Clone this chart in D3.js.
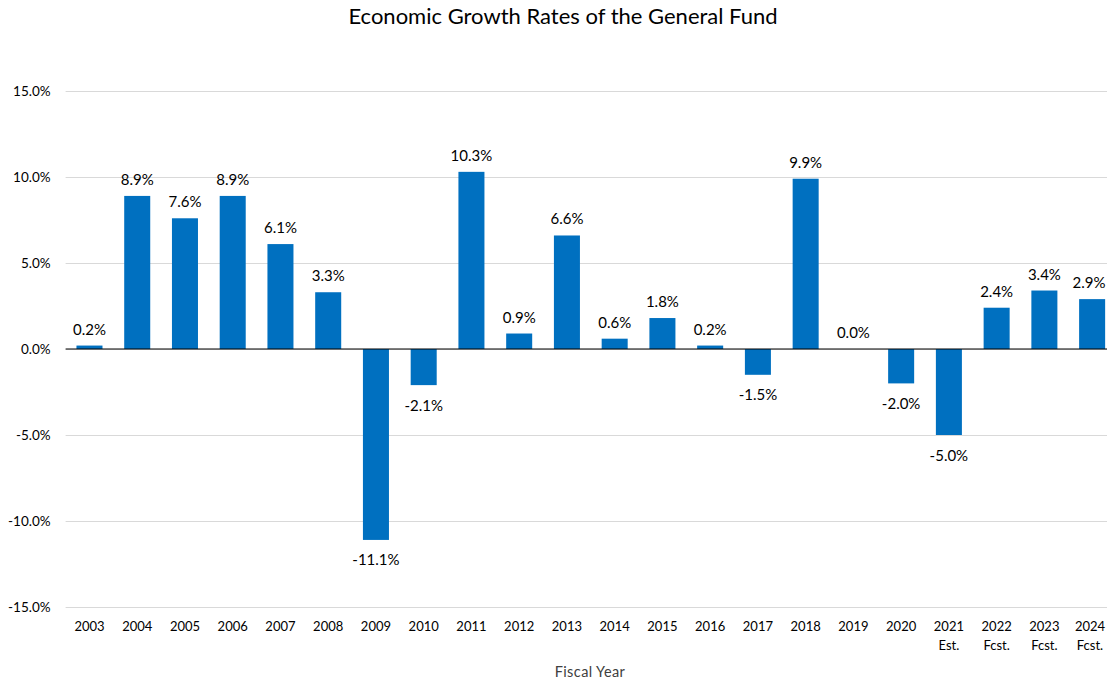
<!DOCTYPE html>
<html>
<head>
<meta charset="utf-8">
<script src="https://cdn.jsdelivr.net/npm/d3@7/dist/d3.min.js"></script>
<style>
  html, body { margin: 0; padding: 0; background: #fff; }
  svg { display: block; font-family: Lato, "Open Sans", sans-serif; }
</style>
</head>
<body>
<svg id="chart" width="1107" height="680"></svg>
<script>
// Fiscal years (second line of the label marks estimates / forecasts)
const years = ["2003","2004","2005","2006","2007","2008","2009","2010","2011","2012","2013",
               "2014","2015","2016","2017","2018","2019","2020","2021","2022","2023","2024"];
const yearNotes = ["","","","","","","","","","","","","","","","","","","Est.","Fcst.","Fcst.","Fcst."];
// Annual growth rate, percent
const growth = [0.2, 8.9, 7.6, 8.9, 6.1, 3.3, -11.1, -2.1, 10.3, 0.9, 6.6,
                0.6, 1.8, 0.2, -1.5, 9.9, 0.0, -2.0, -5.0, 2.4, 3.4, 2.9];
const yTicks = [-15, -10, -5, 0, 5, 10, 15];

const W = 1107;
const svg = d3.select("#chart");
const plot = { left: 65.6, right: 1116, top: 91, bottom: 607 };

const x = d3.scaleBand().domain(years).range([plot.left, plot.right])
  .paddingInner(0.455).paddingOuter(0.2275);
const y = d3.scaleLinear().domain([-15, 15]).range([plot.bottom, plot.top]);
// Percent with one decimal and a plain hyphen for negatives
const pct = d => (d < 0 ? "-" : "") + Math.abs(d).toFixed(1) + "%";

// Title
svg.append("text")
  .attr("x", 563).attr("y", 24)
  .attr("text-anchor", "middle")
  .attr("font-size", 22)
  .attr("fill", "#000")
  .text("Economic Growth Rates of the General Fund");

// Horizontal gridlines and y tick labels
const yAxis = d3.axisLeft(y).tickValues(yTicks)
  .tickSize(-(plot.right - plot.left)).tickPadding(15)
  .tickFormat(pct);
const gy = svg.append("g").attr("transform", `translate(${plot.left},0)`).call(yAxis);
gy.select(".domain").remove();
gy.selectAll(".tick line").attr("stroke", "#d9d9d9").attr("stroke-width", 1);
gy.selectAll(".tick text").attr("font-size", 13.5).attr("fill", "#000")
  .attr("font-family", "Lato, sans-serif");

// Bars
svg.append("g").selectAll("rect")
  .data(growth)
  .join("rect")
  .attr("x", (d, i) => x(years[i]))
  .attr("width", x.bandwidth())
  .attr("y", d => y(Math.max(0, d)))
  .attr("height", d => Math.abs(y(d) - y(0)))
  .attr("fill", "#0070C0");

// Zero line
svg.append("line")
  .attr("x1", plot.left).attr("x2", plot.right)
  .attr("y1", y(0)).attr("y2", y(0))
  .attr("stroke", "#000").attr("stroke-width", 1.2);

// Keep a centred label inside the drawing's right edge
function keepInside(sel, margin) {
  sel.each(function () {
    const bb = this.getBBox();
    const over = bb.x + bb.width - (W - margin);
    if (over > 0) {
      const t = d3.select(this);
      t.attr("x", +t.attr("x") - over);
      t.selectAll("tspan").attr("x", function () { return +d3.select(this).attr("x") - over; });
    }
  });
}

// Value labels
svg.append("g").selectAll("text")
  .data(growth)
  .join("text")
  .attr("x", (d, i) => x(years[i]) + x.bandwidth() / 2)
  .attr("y", d => d >= 0 ? y(d) - 11 : y(d) + 25.5)
  .attr("text-anchor", "middle")
  .attr("font-size", 15)
  .attr("fill", "#000")
  .text(pct)
  .call(keepInside, 1.5);

// Category labels
const xl = svg.append("g").selectAll("text")
  .data(years)
  .join("text")
  .attr("x", d => x(d) + x.bandwidth() / 2)
  .attr("y", 631)
  .attr("text-anchor", "middle")
  .attr("font-size", 13)
  .attr("fill", "#000");
xl.append("tspan").attr("x", d => x(d) + x.bandwidth() / 2).text(d => d);
xl.append("tspan")
  .attr("x", d => x(d) + x.bandwidth() / 2)
  .attr("dy", 19)
  .text((d, i) => yearNotes[i]);
xl.call(keepInside, 1.5);

// Axis title
svg.append("text")
  .attr("x", 590).attr("y", 677)
  .attr("text-anchor", "middle")
  .attr("font-size", 14.5)
  .attr("letter-spacing", 0.4)
  .attr("fill", "#404040")
  .text("Fiscal Year");
</script>
</body>
</html>
